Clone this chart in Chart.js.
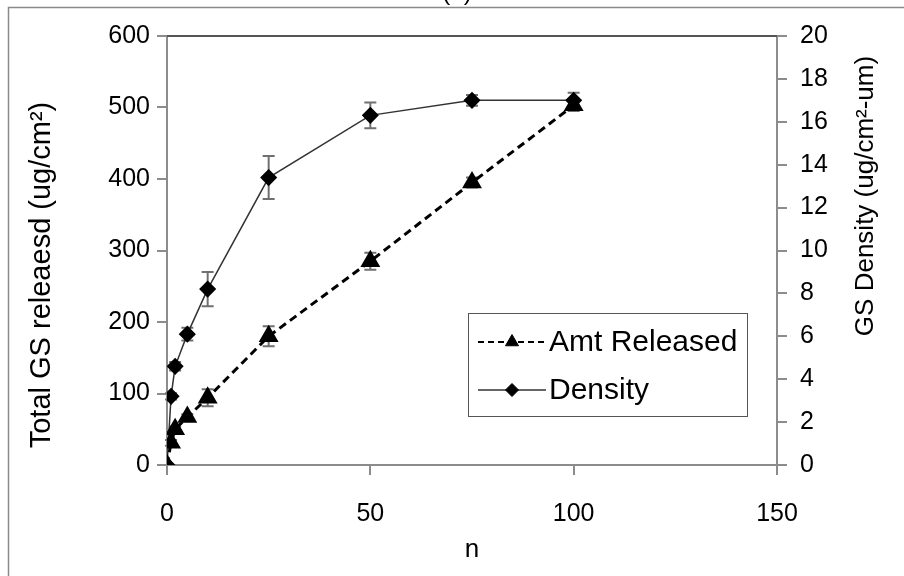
<!DOCTYPE html>
<html>
<head>
<meta charset="utf-8">
<script src="https://cdn.jsdelivr.net/npm/chart.js@4.4.1/dist/chart.umd.min.js"></script>
<style>
  html, body { margin: 0; padding: 0; background: #ffffff; }
  #wrap { width: 904px; height: 576px; }
</style>
</head>
<body>
<div id="wrap"><canvas id="chart" width="904" height="576"></canvas></div>
<script>
// Number of layers (x axis)
const nValues = [0, 1, 2, 5, 10, 25, 50, 75, 100];

// Total GS released (ug/cm2), left axis
const amtReleased = [0, 31, 50, 67, 94, 180, 285, 395, 503];
const amtReleasedErr = [0, 4, 4, 4, 12, 14, 12, 7, 8];

// GS density (ug/cm2-um), right axis
const density = [0, 3.2, 4.6, 6.1, 8.2, 13.4, 16.3, 17.0, 17.0];
const densityErr = [0, 0.15, 0.2, 0.3, 0.8, 1.0, 0.6, 0.25, 0.35];

// Axis ranges and tick steps
const xRange = [0, 150], xStep = 50;
const leftRange = [0, 600], leftStep = 100;
const rightRange = [0, 20], rightStep = 2;

const panelLabel = '(a)';
const xTitle = 'n';
const leftTitle = 'Total GS releaesd (ug/cm\u00B2)';
const rightTitle = 'GS Density (ug/cm\u00B2-um)';

const FONT = '"Liberation Sans", Arial, Helvetica, sans-serif';
const AXIS_GREY = '#8c8c8c';

function pts(xs, ys) { return xs.map((x, i) => ({ x: x, y: ys[i] })); }

// Vertical error bars drawn under the markers
const errorBars = {
  id: 'errorBars',
  beforeDatasetsDraw(chart) {
    const ctx = chart.ctx;
    const xs = chart.scales.x;
    ctx.save();
    ctx.strokeStyle = '#707070';
    ctx.lineWidth = 2;
    chart.data.datasets.forEach(ds => {
      const ys = chart.scales[ds.yAxisID];
      ds.errors.forEach((e, i) => {
        if (!e) return;
        const v = ds.data[i];
        const px = xs.getPixelForValue(v.x);
        const top = ys.getPixelForValue(v.y + e);
        const bot = ys.getPixelForValue(v.y - e);
        ctx.beginPath();
        ctx.moveTo(px, top); ctx.lineTo(px, bot);
        ctx.moveTo(px - 6, top); ctx.lineTo(px + 6, top);
        ctx.moveTo(px - 6, bot); ctx.lineTo(px + 6, bot);
        ctx.stroke();
      });
    });
    ctx.restore();
  }
};

function verticalText(ctx, text, cx, cy, size) {
  ctx.save();
  ctx.translate(cx, cy);
  ctx.rotate(-Math.PI / 2);
  ctx.fillStyle = '#000';
  ctx.font = size + 'px ' + FONT;
  ctx.textAlign = 'center';
  ctx.textBaseline = 'middle';
  ctx.fillText(text, 0, 0);
  ctx.restore();
}

// Outer frame, plot top edge, axis titles, panel label and the legend box
const decorations = {
  id: 'decorations',
  beforeDraw(chart) {
    const ctx = chart.ctx;
    ctx.save();
    ctx.fillStyle = '#ffffff';
    ctx.fillRect(0, 0, chart.width, chart.height);
    ctx.strokeStyle = '#8a8a8a';
    ctx.lineWidth = 1.5;
    ctx.strokeRect(8.5, 7.5, chart.width + 10, chart.height + 10);
    ctx.restore();
  },
  afterDraw(chart) {
    const ctx = chart.ctx;
    const a = chart.chartArea;
    ctx.save();

    // top edge of the plot area
    ctx.strokeStyle = '#555555';
    ctx.lineWidth = 2;
    ctx.beginPath();
    ctx.moveTo(a.left, a.top); ctx.lineTo(a.right, a.top);
    ctx.stroke();

    // panel label, partly above the page edge
    ctx.fillStyle = '#000';
    ctx.font = '24px ' + FONT;
    ctx.textAlign = 'center';
    ctx.textBaseline = 'alphabetic';
    ctx.fillText(panelLabel, 457, 0);

    // y axis titles, both reading bottom to top
    verticalText(ctx, leftTitle, 42, 275, 29);
    verticalText(ctx, rightTitle, 866, 196, 26);

    // legend
    const box = { x: 468.5, y: 313.5, w: 279, h: 103 };
    ctx.fillStyle = '#ffffff';
    ctx.fillRect(box.x, box.y, box.w, box.h);
    ctx.strokeStyle = '#555555';
    ctx.lineWidth = 1;
    ctx.strokeRect(box.x, box.y, box.w, box.h);
    const rowsY = [342, 390];
    chart.data.datasets.forEach((ds, i) => {
      const y = rowsY[i];
      ctx.save();
      ctx.strokeStyle = ds.borderColor;
      ctx.lineWidth = ds.legendLineWidth;
      ctx.setLineDash(ds.legendDash);
      ctx.beginPath();
      ctx.moveTo(478, y); ctx.lineTo(546, y);
      ctx.stroke();
      ctx.restore();
      ctx.fillStyle = ds.pointBackgroundColor;
      ctx.strokeStyle = ds.pointBorderColor;
      ctx.lineWidth = 1;
      Chart.helpers.drawPoint(ctx, {
        pointStyle: ds.pointStyle, radius: ds.pointRadius - 1, borderWidth: 1, rotation: 0
      }, 512, y);
      ctx.fillStyle = '#000';
      ctx.font = '30px ' + FONT;
      ctx.textAlign = 'left';
      ctx.textBaseline = 'middle';
      ctx.fillText(ds.label, 549, y + 1);
    });
    ctx.restore();
  }
};

const tickFont = { family: FONT, size: 25 };
const titleFont = { family: FONT, size: 26 };

new Chart(document.getElementById('chart'), {
  type: 'line',
  data: {
    datasets: [
      {
        label: 'Amt Released',
        data: pts(nValues, amtReleased),
        errors: amtReleasedErr,
        yAxisID: 'y',
        borderColor: '#000000',
        borderWidth: 3,
        borderDash: [8, 5],
        legendDash: [6, 4],
        legendLineWidth: 2,
        pointStyle: 'triangle',
        pointRadius: 8.5,
        pointBackgroundColor: '#000000',
        pointBorderColor: '#000000',
        tension: 0
      },
      {
        label: 'Density',
        data: pts(nValues, density),
        errors: densityErr,
        yAxisID: 'y1',
        borderColor: '#333333',
        borderWidth: 1.5,
        legendDash: [],
        legendLineWidth: 1.5,
        pointStyle: 'rectRot',
        pointRadius: 7.5,
        pointBackgroundColor: '#000000',
        pointBorderColor: '#000000',
        tension: 0
      }
    ]
  },
  options: {
    responsive: false,
    animation: false,
    events: [],
    layout: { padding: { left: 10, right: 10, top: 36, bottom: 6 } },
    plugins: { legend: { display: false }, tooltip: { enabled: false } },
    scales: {
      x: {
        type: 'linear',
        min: xRange[0], max: xRange[1],
        ticks: { stepSize: xStep, color: '#000', font: tickFont, padding: 24 },
        grid: { drawOnChartArea: false, drawTicks: true, tickLength: 10, color: AXIS_GREY, lineWidth: 2 },
        border: { display: true, color: AXIS_GREY, width: 2 },
        title: { display: true, text: xTitle, color: '#000', font: titleFont, padding: { top: 0, bottom: 5 } },
        afterFit(s) { s.height = 105; }
      },
      y: {
        type: 'linear',
        position: 'left',
        min: leftRange[0], max: leftRange[1],
        ticks: { stepSize: leftStep, color: '#000', font: tickFont, padding: 7 },
        grid: { drawOnChartArea: false, drawTicks: true, tickLength: 10, color: AXIS_GREY, lineWidth: 2 },
        border: { display: true, color: AXIS_GREY, width: 2 },
        afterFit(s) { s.width = 157; }
      },
      y1: {
        type: 'linear',
        position: 'right',
        min: rightRange[0], max: rightRange[1],
        ticks: { stepSize: rightStep, color: '#000', font: tickFont, padding: 13 },
        grid: { drawOnChartArea: false, drawTicks: true, tickLength: 10, color: AXIS_GREY, lineWidth: 2 },
        border: { display: true, color: AXIS_GREY, width: 2 },
        afterFit(s) { s.width = 117; }
      }
    }
  },
  plugins: [errorBars, decorations]
});
</script>
</body>
</html>
